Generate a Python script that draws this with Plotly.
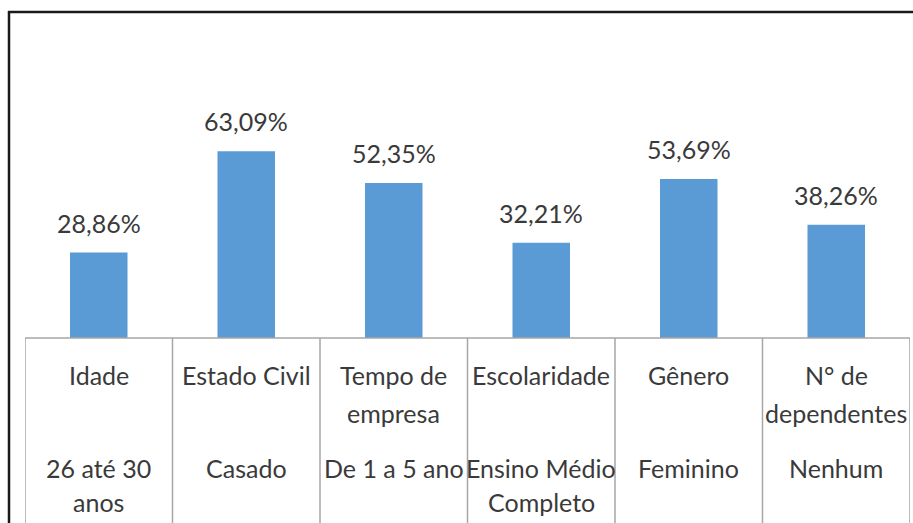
import plotly.graph_objects as go

# ---- data ----
categories = ["Idade", "Estado Civil", "Tempo de\nempresa", "Escolaridade", "Gênero", "N° de\ndependentes"]
subcategories = ["26 até 30\nanos", "Casado", "De 1 a 5 ano", "Ensino Médio\nCompleto", "Feminino", "Nenhum"]
values = [28.86, 63.09, 52.35, 32.21, 53.69, 38.26]

# ---- layout constants ----
W, H = 913, 523
L, R, T, B = 25, 3, 42, 185
PW, PH = W - L - R, H - T - B
FONT = "Lato"
FS = 25
TXT = "#3a3a3a"
GRID = "#a6a6a6"


def py(p):  # pixel y -> paper y
    return (H - B - p) / PH


def px(p):  # pixel x -> paper x
    return (p - L) / PW


xs = list(range(len(values)))

fig = go.Figure()
fig.add_trace(go.Bar(
    x=xs, y=values, width=0.39,
    marker=dict(color="#5b9bd5", line=dict(width=0)),
    hoverinfo="skip",
))

annotations = []
for i, v in enumerate(values):
    annotations.append(dict(
        x=i, y=v, xref="x", yref="y", yanchor="middle", yshift=30,
        text=f"{v:.2f}".replace(".", ",") + "%", showarrow=False,
        font=dict(family=FONT, size=FS, color=TXT),
    ))

row1 = [375, 413]
row2 = [468, 502]
for i, (c, s) in enumerate(zip(categories, subcategories)):
    for lines, ys in ((c.split("\n"), row1), (s.split("\n"), row2)):
        for line, yy in zip(lines, ys):
            annotations.append(dict(
                x=i, y=py(yy), xref="x", yref="paper", yanchor="middle",
                text=line, showarrow=False,
                font=dict(family=FONT, size=FS, color=TXT),
            ))

shapes = []
# table grid: vertical dividers
for k in range(len(values) + 1):
    shapes.append(dict(type="line", xref="x", yref="paper",
                       x0=k - 0.5, x1=k - 0.5, y0=0, y1=py(H + 5),
                       line=dict(color=GRID, width=1.5)))
# baseline
shapes.append(dict(type="line", xref="x", yref="paper",
                   x0=-0.5, x1=len(values) - 0.5, y0=0, y1=0,
                   line=dict(color=GRID, width=1.5)))
# outer frame (left + top)
shapes.append(dict(type="line", xref="paper", yref="paper",
                   x0=px(9), x1=px(9), y0=py(11), y1=py(H + 5),
                   line=dict(color="#1a1a1a", width=2.5)))
shapes.append(dict(type="line", xref="paper", yref="paper",
                   x0=px(8), x1=px(W + 5), y0=py(12), y1=py(12),
                   line=dict(color="#1a1a1a", width=2.5)))

fig.update_layout(
    width=W, height=H,
    margin=dict(l=L, r=R, t=T, b=B),
    paper_bgcolor="white", plot_bgcolor="white",
    showlegend=False,
    hovermode=False,
    xaxis=dict(range=[-0.5, len(values) - 0.5], showticklabels=False,
               showgrid=False, zeroline=False, showline=False, ticks=""),
    yaxis=dict(range=[0, 100], showticklabels=False, showgrid=False,
               zeroline=False, showline=False, ticks=""),
    annotations=annotations,
    shapes=shapes,
)

fig.write_html("out.html",
               config={"displayModeBar": False},
               post_script="document.body.style.margin='0';document.body.style.overflow='hidden';")
